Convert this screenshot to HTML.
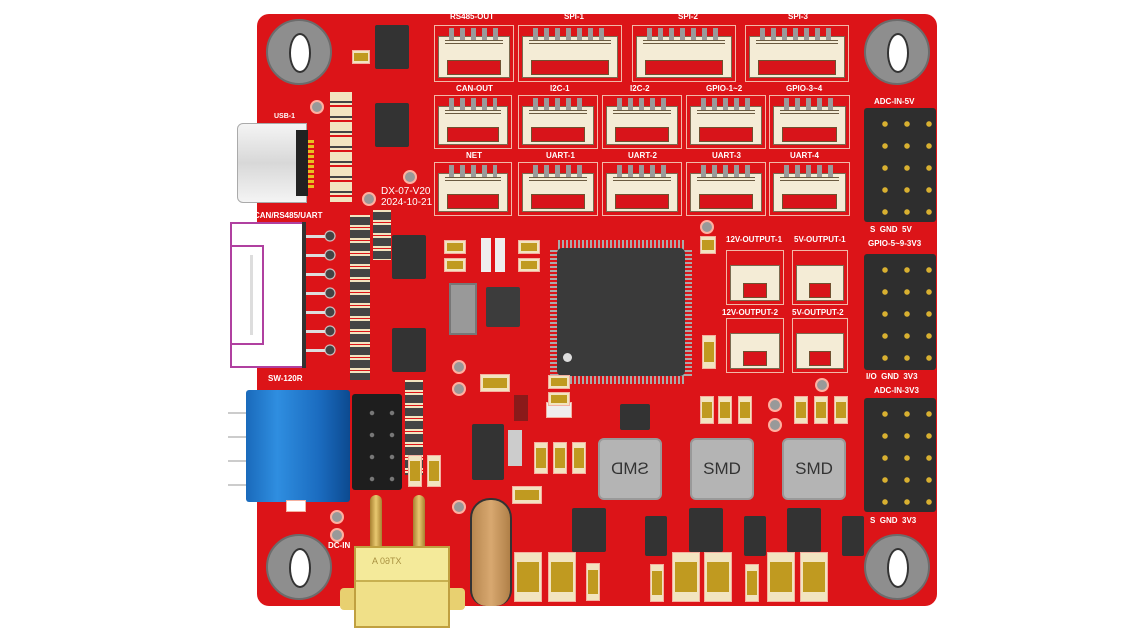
<!DOCTYPE html>
<html><head><meta charset="utf-8"><style>
*{margin:0;padding:0;box-sizing:border-box}
body{width:1139px;height:641px;background:#fff;position:relative;overflow:hidden;font-family:"Liberation Sans",sans-serif}
.a{position:absolute}
.board{left:257px;top:14px;width:680px;height:592px;background:#dc1418;border-radius:12px}
.hole{position:absolute;width:66px;height:66px;border-radius:50%;background:#8e8e8e;border:2px solid #6c6c6c}
.hole i{position:absolute;left:21px;top:12px;width:22px;height:40px;border-radius:50%;background:#fff;border:2px solid #333}
.cn{position:absolute;border:1px solid #f2b8a8}
.cn .b{position:absolute;left:3px;right:3px;top:10px;bottom:3px;background:#f4ecd6;border:1px solid #7a6a50}
.cn .p{position:absolute;left:14px;right:14px;top:2px;height:12px;background:repeating-linear-gradient(90deg,#9a9a9a 0 5px,transparent 5px 11px)}
.cn .s{position:absolute;left:12px;right:12px;bottom:6px;height:15px;background:#d8141a;border:1px solid #705030}
.cn .r{position:absolute;left:10px;right:10px;top:14px;height:4px;border-top:1px solid #6a5a40;border-bottom:1px solid #6a5a40}
.lb{position:absolute;color:#fff;font-size:8px;font-weight:bold;white-space:nowrap}
.hd{position:absolute;background:#2e2e2e;border-radius:3px}
.ic{position:absolute;background:#333;border-radius:2px}
.cp{position:absolute;background:#f2e4c0;border:1px solid #f4b0a0}
.cp::after{content:"";position:absolute;left:8%;right:8%;top:18%;bottom:18%;background:#c09a20}
.ind{position:absolute;width:64px;height:62px;background:#b4b4b4;border-radius:6px;border:2px solid #999;color:#333;font-size:17px;text-align:center;line-height:58px}
.via{position:absolute;width:14px;height:14px;border-radius:50%;background:#999;border:2px solid #ffb0a0}
</style></head><body>
<div class="a board"></div>
<div class="hole" style="left:266px;top:19px"><i></i></div>
<div class="hole" style="left:864px;top:19px"><i></i></div>
<div class="hole" style="left:266px;top:534px"><i></i></div>
<div class="hole" style="left:864px;top:534px"><i></i></div>

<div class="cn" style="left:434px;top:25px;width:80px;height:57px"><div class="b"></div><div class="p"></div><div class="r"></div><div class="s"></div></div>
<div class="cn" style="left:518px;top:25px;width:104px;height:57px"><div class="b"></div><div class="p"></div><div class="r"></div><div class="s"></div></div>
<div class="cn" style="left:632px;top:25px;width:104px;height:57px"><div class="b"></div><div class="p"></div><div class="r"></div><div class="s"></div></div>
<div class="cn" style="left:745px;top:25px;width:104px;height:57px"><div class="b"></div><div class="p"></div><div class="r"></div><div class="s"></div></div>
<div class="lb" style="left:450px;top:12px">RS485-OUT</div>
<div class="lb" style="left:564px;top:12px">SPI-1</div>
<div class="lb" style="left:678px;top:12px">SPI-2</div>
<div class="lb" style="left:788px;top:12px">SPI-3</div>
<div class="cn" style="left:434px;top:95px;width:78px;height:54px"><div class="b"></div><div class="p"></div><div class="r"></div><div class="s"></div></div>
<div class="cn" style="left:518px;top:95px;width:80px;height:54px"><div class="b"></div><div class="p"></div><div class="r"></div><div class="s"></div></div>
<div class="cn" style="left:602px;top:95px;width:80px;height:54px"><div class="b"></div><div class="p"></div><div class="r"></div><div class="s"></div></div>
<div class="cn" style="left:686px;top:95px;width:80px;height:54px"><div class="b"></div><div class="p"></div><div class="r"></div><div class="s"></div></div>
<div class="cn" style="left:769px;top:95px;width:81px;height:54px"><div class="b"></div><div class="p"></div><div class="r"></div><div class="s"></div></div>
<div class="lb" style="left:456px;top:84px">CAN-OUT</div>
<div class="lb" style="left:550px;top:84px">I2C-1</div>
<div class="lb" style="left:630px;top:84px">I2C-2</div>
<div class="lb" style="left:706px;top:84px">GPIO-1~2</div>
<div class="lb" style="left:786px;top:84px">GPIO-3~4</div>
<div class="cn" style="left:434px;top:162px;width:78px;height:54px"><div class="b"></div><div class="p"></div><div class="r"></div><div class="s"></div></div>
<div class="cn" style="left:518px;top:162px;width:80px;height:54px"><div class="b"></div><div class="p"></div><div class="r"></div><div class="s"></div></div>
<div class="cn" style="left:602px;top:162px;width:80px;height:54px"><div class="b"></div><div class="p"></div><div class="r"></div><div class="s"></div></div>
<div class="cn" style="left:686px;top:162px;width:80px;height:54px"><div class="b"></div><div class="p"></div><div class="r"></div><div class="s"></div></div>
<div class="cn" style="left:769px;top:162px;width:81px;height:54px"><div class="b"></div><div class="p"></div><div class="r"></div><div class="s"></div></div>
<div class="lb" style="left:466px;top:151px">NET</div>
<div class="lb" style="left:546px;top:151px">UART-1</div>
<div class="lb" style="left:628px;top:151px">UART-2</div>
<div class="lb" style="left:712px;top:151px">UART-3</div>
<div class="lb" style="left:790px;top:151px">UART-4</div>

<div class="cn" style="left:726px;top:250px;width:58px;height:55px"><div class="b" style="top:14px"></div><div class="s" style="left:16px;right:16px"></div></div>
<div class="cn" style="left:792px;top:250px;width:56px;height:55px"><div class="b" style="top:14px"></div><div class="s" style="left:16px;right:16px"></div></div>
<div class="cn" style="left:726px;top:318px;width:58px;height:55px"><div class="b" style="top:14px"></div><div class="s" style="left:16px;right:16px"></div></div>
<div class="cn" style="left:792px;top:318px;width:56px;height:55px"><div class="b" style="top:14px"></div><div class="s" style="left:16px;right:16px"></div></div>
<div class="lb" style="left:726px;top:235px">12V-OUTPUT-1</div>
<div class="lb" style="left:794px;top:235px">5V-OUTPUT-1</div>
<div class="lb" style="left:722px;top:308px">12V-OUTPUT-2</div>
<div class="lb" style="left:792px;top:308px">5V-OUTPUT-2</div>

<div class="hd" style="left:864px;top:108px;width:72px;height:114px"></div>
<div class="hd" style="left:864px;top:254px;width:72px;height:116px"></div>
<div class="hd" style="left:864px;top:398px;width:72px;height:114px"></div>
<div class="a" style="left:874px;top:113px;width:60px;height:105px;background:radial-gradient(circle,#d8b030 2.5px,transparent 3px) 0 0/22px 22px"></div>
<div class="a" style="left:874px;top:259px;width:60px;height:108px;background:radial-gradient(circle,#d8b030 2.5px,transparent 3px) 0 0/22px 22px"></div>
<div class="a" style="left:874px;top:403px;width:60px;height:108px;background:radial-gradient(circle,#d8b030 2.5px,transparent 3px) 0 0/22px 22px"></div>
<div class="lb" style="left:874px;top:97px">ADC-IN-5V</div>
<div class="lb" style="left:870px;top:225px">S &nbsp;GND &nbsp;5V</div>
<div class="lb" style="left:868px;top:239px">GPIO-5~9-3V3</div>
<div class="lb" style="left:866px;top:372px">I/O &nbsp;GND &nbsp;3V3</div>
<div class="lb" style="left:874px;top:386px">ADC-IN-3V3</div>
<div class="lb" style="left:870px;top:516px">S &nbsp;GND &nbsp;3V3</div>

<div class="a" style="left:550px;top:240px;width:142px;height:144px;background:repeating-linear-gradient(90deg,#aaa 0 2px,transparent 2px 4px) 8px 0/126px 100% no-repeat,repeating-linear-gradient(0deg,#aaa 0 2px,transparent 2px 4px) 0 8px/100% 128px no-repeat"></div>
<div class="ic" style="left:557px;top:248px;width:128px;height:128px;border-radius:5px;background:#3a3a3a"></div>
<div class="a" style="left:563px;top:353px;width:9px;height:9px;border-radius:50%;background:#ddd"></div>
<div class="ic" style="left:486px;top:287px;width:34px;height:40px;background:#3c3c3c"></div>

<div class="ic" style="left:375px;top:25px;width:34px;height:44px"></div>
<div class="ic" style="left:375px;top:103px;width:34px;height:44px"></div>
<div class="ic" style="left:392px;top:235px;width:34px;height:44px"></div>
<div class="ic" style="left:392px;top:328px;width:34px;height:44px"></div>
<div class="a" style="left:449px;top:283px;width:28px;height:52px;background:#999;border:2px solid #777"></div>
<div class="ic" style="left:472px;top:424px;width:32px;height:56px"></div>
<div class="a" style="left:508px;top:430px;width:14px;height:36px;background:#ccc"></div>
<div class="ic" style="left:620px;top:404px;width:30px;height:26px"></div>
<div class="a" style="left:546px;top:402px;width:26px;height:16px;background:#eee;border:1px solid #f4b0a0"></div>
<div class="a" style="left:514px;top:395px;width:14px;height:26px;background:#8a1a1a"></div>

<div class="ic" style="left:572px;top:508px;width:34px;height:44px"></div>
<div class="ic" style="left:689px;top:508px;width:34px;height:44px"></div>
<div class="ic" style="left:787px;top:508px;width:34px;height:44px"></div>
<div class="ic" style="left:645px;top:516px;width:22px;height:40px"></div>
<div class="ic" style="left:744px;top:516px;width:22px;height:40px"></div>
<div class="ic" style="left:842px;top:516px;width:22px;height:40px"></div>

<div class="ind" style="left:598px;top:438px;transform:scaleX(-1)">SMD</div>
<div class="ind" style="left:690px;top:438px">SMD</div>
<div class="ind" style="left:782px;top:438px">SMD</div>

<div class="cp" style="left:514px;top:552px;width:28px;height:50px"></div>
<div class="cp" style="left:548px;top:552px;width:28px;height:50px"></div>
<div class="cp" style="left:672px;top:552px;width:28px;height:50px"></div>
<div class="cp" style="left:704px;top:552px;width:28px;height:50px"></div>
<div class="cp" style="left:767px;top:552px;width:28px;height:50px"></div>
<div class="cp" style="left:800px;top:552px;width:28px;height:50px"></div>
<div class="cp" style="left:586px;top:563px;width:14px;height:38px"></div>
<div class="cp" style="left:650px;top:564px;width:14px;height:38px"></div>
<div class="cp" style="left:745px;top:564px;width:14px;height:38px"></div>

<div class="a" style="left:330px;top:92px;width:22px;height:110px;background:repeating-linear-gradient(180deg,#f2e4c0 0 9px,#444 9px 11px,#f2e4c0 11px 13px,transparent 13px 15px)"></div>
<div class="a" style="left:350px;top:215px;width:20px;height:165px;background:repeating-linear-gradient(180deg,#f2e4c0 0 2px,#444 2px 10px,#f2e4c0 10px 12px,transparent 12px 13px)"></div>
<div class="a" style="left:373px;top:210px;width:18px;height:50px;background:repeating-linear-gradient(180deg,#f2e4c0 0 2px,#444 2px 10px,#f2e4c0 10px 12px,transparent 12px 13px)"></div>
<div class="a" style="left:405px;top:380px;width:18px;height:95px;background:repeating-linear-gradient(180deg,#f2e4c0 0 2px,#444 2px 10px,#f2e4c0 10px 12px,transparent 12px 13px)"></div>
<div class="cp" style="left:444px;top:240px;width:22px;height:14px"></div>
<div class="cp" style="left:444px;top:258px;width:22px;height:14px"></div>
<div class="cp" style="left:518px;top:240px;width:22px;height:14px"></div>
<div class="cp" style="left:518px;top:258px;width:22px;height:14px"></div>
<div class="a" style="left:481px;top:238px;width:10px;height:34px;background:#eee"></div>
<div class="a" style="left:495px;top:238px;width:10px;height:34px;background:#eee"></div>
<div class="cp" style="left:480px;top:374px;width:30px;height:18px"></div>
<div class="cp" style="left:548px;top:375px;width:22px;height:14px"></div>
<div class="cp" style="left:548px;top:392px;width:22px;height:14px"></div>
<div class="cp" style="left:700px;top:396px;width:14px;height:28px"></div>
<div class="cp" style="left:718px;top:396px;width:14px;height:28px"></div>
<div class="cp" style="left:738px;top:396px;width:14px;height:28px"></div>
<div class="cp" style="left:794px;top:396px;width:14px;height:28px"></div>
<div class="cp" style="left:814px;top:396px;width:14px;height:28px"></div>
<div class="cp" style="left:834px;top:396px;width:14px;height:28px"></div>
<div class="cp" style="left:534px;top:442px;width:14px;height:32px"></div>
<div class="cp" style="left:553px;top:442px;width:14px;height:32px"></div>
<div class="cp" style="left:572px;top:442px;width:14px;height:32px"></div>
<div class="cp" style="left:408px;top:455px;width:14px;height:32px"></div>
<div class="cp" style="left:427px;top:455px;width:14px;height:32px"></div>
<div class="cp" style="left:700px;top:236px;width:16px;height:18px"></div>
<div class="cp" style="left:702px;top:335px;width:14px;height:34px"></div>
<div class="cp" style="left:512px;top:486px;width:30px;height:18px"></div>
<div class="cp" style="left:352px;top:50px;width:18px;height:14px"></div>
<div class="via" style="left:310px;top:100px"></div>
<div class="via" style="left:403px;top:170px"></div>
<div class="via" style="left:362px;top:192px"></div>
<div class="via" style="left:452px;top:360px"></div>
<div class="via" style="left:452px;top:382px"></div>
<div class="via" style="left:700px;top:220px"></div>
<div class="via" style="left:815px;top:378px"></div>
<div class="via" style="left:768px;top:398px"></div>
<div class="via" style="left:768px;top:418px"></div>
<div class="via" style="left:330px;top:510px"></div>
<div class="via" style="left:330px;top:528px"></div>
<div class="via" style="left:452px;top:500px"></div>

<div class="a" style="left:237px;top:123px;width:70px;height:80px;background:linear-gradient(180deg,#f4f4f4,#d8d8d8 50%,#f4f4f4);border-radius:6px 0 0 6px;border:1px solid #aaa"></div>
<div class="a" style="left:296px;top:130px;width:12px;height:66px;background:#222"></div>
<div class="a" style="left:308px;top:140px;width:6px;height:50px;background:repeating-linear-gradient(180deg,#e8c020 0 3px,transparent 3px 5px)"></div>
<div class="lb" style="left:274px;top:113px;font-size:7px">USB-1</div>
<div class="lb" style="left:254px;top:211px">CAN/RS485/UART</div>
<div class="lb" style="left:381px;top:186px;font-size:10px;font-weight:normal;line-height:11px">DX-07-V20<br>2024-10-21</div>

<div class="a" style="left:230px;top:222px;width:72px;height:146px;background:#fff"></div>
<div class="a" style="left:230px;top:222px;width:73px;height:146px;border:2px solid #b040a0;border-right:none"></div>
<div class="a" style="left:232px;top:245px;width:32px;height:100px;background:#fff;border:2px solid #b040a0;border-left:none"></div>
<div class="a" style="left:250px;top:255px;width:3px;height:80px;background:#ddd"></div>
<div class="a" style="left:302px;top:222px;width:4px;height:146px;background:#333"></div>
<div class="a" style="left:306px;top:230px;width:30px;height:130px;background:radial-gradient(circle at 24px 6px,#444 4px,#ddd 5px,transparent 6px) 0 0/30px 19px,repeating-linear-gradient(180deg,#ddd 0 3px,transparent 3px 19px) 0 5px/22px 130px no-repeat"></div>
<div class="lb" style="left:268px;top:374px">SW-120R</div>

<div class="a" style="left:228px;top:398px;width:30px;height:90px;background:repeating-linear-gradient(180deg,#fff 0 14px,#ccc 14px 16px,transparent 16px 24px)"></div>
<div class="a" style="left:246px;top:390px;width:104px;height:112px;background:linear-gradient(90deg,#1a6abb,#2f8ee0 30%,#1b6cc0 70%,#0c4a90);border-radius:3px"></div>
<div class="a" style="left:286px;top:500px;width:20px;height:12px;background:#fff;border:1px solid #f4b0a0"></div>
<div class="lb" style="left:328px;top:541px">DC-IN</div>

<div class="hd" style="left:352px;top:394px;width:50px;height:96px;background:#1e1e1e"></div>
<div class="a" style="left:362px;top:402px;width:34px;height:80px;background:radial-gradient(circle,#777 2px,transparent 2.5px) 0 0/20px 22px"></div>

<div class="a" style="left:370px;top:495px;width:12px;height:60px;background:linear-gradient(90deg,#a88030,#e8c870,#a88030);border-radius:6px 6px 0 0"></div>
<div class="a" style="left:413px;top:495px;width:12px;height:60px;background:linear-gradient(90deg,#a88030,#e8c870,#a88030);border-radius:6px 6px 0 0"></div>
<div class="a" style="left:340px;top:588px;width:125px;height:22px;background:#e8d070;border-radius:4px"></div>
<div class="a" style="left:354px;top:546px;width:96px;height:82px;background:#f0e088;border:2px solid #c0a040"></div>
<div class="a" style="left:356px;top:548px;width:92px;height:34px;background:#f4ea9a;border-bottom:2px solid #c8b050"></div>
<div class="a" style="left:372px;top:556px;font-size:9px;color:#a89040;transform:scaleX(-1)">XT60 A</div>

<div class="a" style="left:470px;top:498px;width:42px;height:108px;background:linear-gradient(90deg,#b88850,#d8a870,#b08048);border-radius:20px 20px 16px 16px;border:2px solid #333;border-bottom:none"></div>
</body></html>
